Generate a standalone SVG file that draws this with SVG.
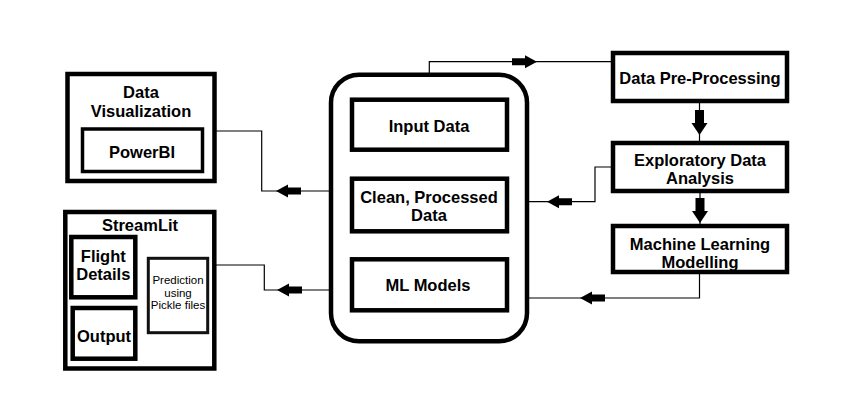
<svg xmlns="http://www.w3.org/2000/svg" xmlns:xlink="http://www.w3.org/1999/xlink" width="862" height="400" viewBox="0 0 862 400">
<style>
.box{fill:#fff;stroke:#000;stroke-width:4.5}
.inner{fill:#fff;stroke:#000;stroke-width:3.5}
.pred{fill:#fff;stroke:#111;stroke-width:3}
.t{font-family:"Liberation Sans",Arial,sans-serif;font-weight:bold;font-size:16.5px;text-anchor:middle;fill:#000}
.s{font-family:"Liberation Sans",Arial,sans-serif;font-size:11.5px;text-anchor:middle;fill:#000}
.ln{fill:none;stroke:#000;stroke-width:1.2}
.ah{fill:#000}
</style>
<defs>
<path id="hA" class="ah" d="M0,0 L-12,-6.5 L-12,-3.5 L-25,-3.5 L-25,3.5 L-12,3.5 L-12,6.5 Z"/>
<path id="vA" class="ah" d="M0,0 L-8,-12 L-4.5,-12 L-4.5,-25 L4.5,-25 L4.5,-12 L8,-12 Z"/>
<path id="sA" class="ah" d="M0,0 L-8,-4.5 L-8,-2.5 L-16,-2.5 L-16,2.5 L-8,2.5 L-8,4.5 Z"/>
</defs>
<rect width="862" height="400" fill="#fff"/>

<g id="connectors">
<polyline class="ln" points="429.3,99.7 429.3,61.7 613,61.7"/>
<use xlink:href="#hA" href="#hA" transform="translate(537,61.7)"/>
<polyline class="ln" points="202,131 261.7,131 261.7,191 352,191"/>
<use xlink:href="#hA" href="#hA" transform="translate(276,191) rotate(180)"/>
<polyline class="ln" points="207.7,265 264.3,265 264.3,290 352,290"/>
<use xlink:href="#hA" href="#hA" transform="translate(277,290) rotate(180)"/>
<polyline class="ln" points="613,167 595,167 595,201.7 507,201.7"/>
<use xlink:href="#hA" href="#hA" transform="translate(547,201.7) rotate(180)"/>
<polyline class="ln" points="699.5,272 699.5,298 507,298"/>
<use xlink:href="#hA" href="#hA" transform="translate(580,298) rotate(180)"/>
<line class="ln" x1="699.5" y1="101" x2="699.5" y2="143"/>
<use xlink:href="#vA" href="#vA" transform="translate(699.5,135)"/>
<line class="ln" x1="700" y1="191" x2="700" y2="226"/>
<use xlink:href="#vA" href="#vA" transform="translate(700,223)"/>
<polyline class="ln" points="135.3,242.7 184.3,242.7 184.3,258.3"/>
<use xlink:href="#sA" href="#sA" transform="translate(173,242.7)"/>
<polyline class="ln" points="186.7,332.7 186.7,352.7 135.3,352.7"/>
<use xlink:href="#sA" href="#sA" transform="translate(154,352.7) rotate(180)"/>
</g>

<g id="data-visualization">
<rect class="box" x="67.5" y="74" width="147" height="107"/>
<text class="t" x="141" y="98">Data</text>
<text class="t" x="141" y="117">Visualization</text>
</g>
<g id="powerbi">
<rect class="inner" x="82.5" y="129" width="120" height="42.5"/>
<text class="t" x="142" y="158">PowerBI</text>
</g>

<g id="streamlit">
<rect class="box" x="65.3" y="212" width="149" height="156.5"/>
<text class="t" x="140" y="231">StreamLit</text>
</g>
<g id="flight-details">
<rect class="box" x="71.3" y="237" width="64" height="60.3"/>
<text class="t" x="103.3" y="262">Flight</text>
<text class="t" x="103.3" y="280">Details</text>
</g>
<g id="output">
<rect class="box" x="72.7" y="308" width="62.6" height="50.7"/>
<text class="t" x="104" y="342">Output</text>
</g>
<g id="prediction">
<rect class="pred" x="148.3" y="258.3" width="59.4" height="74.4"/>
<text class="s" x="178" y="284">Prediction</text>
<text class="s" x="178" y="296.5">using</text>
<text class="s" x="178" y="309">Pickle files</text>
</g>

<g id="data-store">
<rect class="box" x="331" y="74.7" width="196" height="266.6" rx="28" ry="28"/>
</g>
<g id="input-data">
<rect class="box" x="352" y="99.7" width="155" height="50"/>
<text class="t" x="429" y="132">Input Data</text>
</g>
<g id="clean-data">
<rect class="box" x="352" y="178.7" width="155" height="52.6"/>
<text class="t" x="429" y="203">Clean, Processed</text>
<text class="t" x="429" y="221">Data</text>
</g>
<g id="ml-models">
<rect class="box" x="352" y="259.3" width="155" height="51"/>
<text class="t" x="428" y="291">ML Models</text>
</g>

<g id="data-preprocessing">
<rect class="box" x="613" y="53" width="174" height="48"/>
<text class="t" x="700" y="84">Data Pre-Processing</text>
</g>
<g id="eda">
<rect class="box" x="613" y="143" width="174" height="48"/>
<text class="t" x="700" y="166">Exploratory Data</text>
<text class="t" x="700" y="184">Analysis</text>
</g>
<g id="ml-modelling">
<rect class="box" x="613" y="226" width="174" height="46"/>
<text class="t" x="700" y="250">Machine Learning</text>
<text class="t" x="700" y="268">Modelling</text>
</g>
</svg>
